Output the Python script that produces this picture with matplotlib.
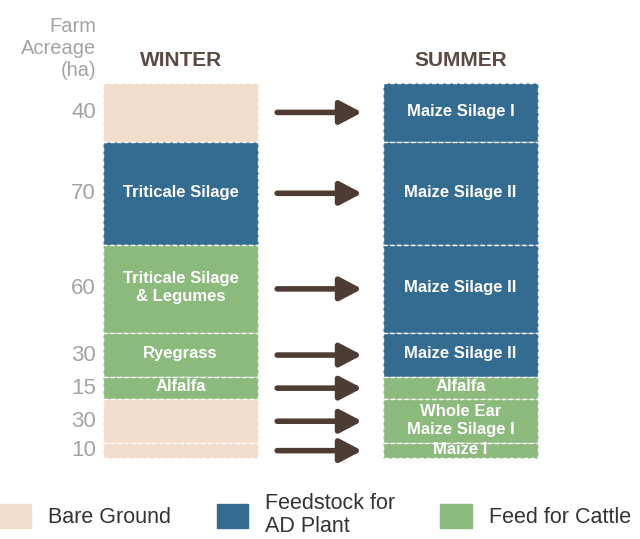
import numpy as np
import matplotlib.pyplot as plt
from matplotlib.patches import Patch, ArrowStyle

plt.rcParams['font.family'] = ['Liberation Sans', 'DejaVu Sans']

# Dados do gráfico
acreage = [40, 70, 60, 30, 15, 30, 10]
winter_crops = ['', 'Triticale Silage', 'Triticale Silage\n& Legumes', 'Ryegrass', 'Alfalfa', '', '']
winter_use = ['bare', 'ad', 'cattle', 'cattle', 'cattle', 'bare', 'bare']
summer_crops = ['Maize Silage I', 'Maize Silage II', 'Maize Silage II', 'Maize Silage II',
                'Alfalfa', 'Whole Ear\nMaize Silage I', 'Maize I']
summer_use = ['ad', 'ad', 'ad', 'ad', 'cattle', 'cattle', 'cattle']
seasons = ['WINTER', 'SUMMER']
use_keys = ['bare', 'ad', 'cattle']
use_names = ['Bare Ground', 'Feedstock for\nAD Plant', 'Feed for Cattle']
use_colors = {'bare': '#f2dccb', 'ad': '#346b91', 'cattle': '#8cb97c'}

bottoms = np.concatenate([[0], np.cumsum(acreage)[:-1]])
mids = bottoms + np.array(acreage) / 2
total = sum(acreage)

width = 0.554
fig = plt.figure(figsize=(6.4, 5.39), dpi=100)
ax = fig.add_axes([0, 1 - 458 / 539, 1, 375 / 539])
ax.set_xlim(-0.645, 1.641)
ax.set_ylim(total, 0)
ax.axis('off')

columns = [(0, winter_crops, winter_use), (1, summer_crops, summer_use)]
for x, crops, uses in columns:
    bars = ax.bar([x] * len(acreage), acreage, bottom=bottoms, width=width,
                  color=[use_colors[u] for u in uses], edgecolor='white',
                  linewidth=1, linestyle=(0, (3, 2)), clip_on=False)
    for bar, crop, m in zip(bars, crops, mids):
        if crop:
            t = ax.text(x, m - 0.8, crop, ha='center', va='center', color='white',
                        fontsize=12, fontweight='bold', linespacing=1.25)
            t.set_clip_path(bar)

for x, s in zip([0, 1], seasons):
    ax.text(x, -9, s, ha='center', va='bottom', fontsize=15, fontweight='bold',
            color='#5b4a43')

# números de hectares
for a, m in zip(acreage, mids):
    ax.text(-width / 2 - 0.025, m, str(a), ha='right', va='center',
            fontsize=16, color='#a3a3a3')
ax.text(-width / 2 - 0.025, -2, 'Farm\nAcreage\n(ha)', ha='right', va='bottom',
        fontsize=14.5, color='#a3a3a3', linespacing=1.2)

# setas
style = ArrowStyle('-|>', head_length=0.95, head_width=0.5)
for m in mids:
    ax.annotate('', xy=(1 - width / 2 - 0.075, m), xytext=(width / 2 + 0.068, m),
                arrowprops=dict(arrowstyle=style, mutation_scale=14, lw=4,
                                color='#4e3b33', shrinkA=0, shrinkB=0))

handles = [Patch(color=use_colors[k]) for k in use_keys]
leg = fig.legend(handles, use_names, loc='lower left', bbox_to_anchor=(0, 0.003), ncol=3,
                 frameon=False, fontsize=15.5, handlelength=1.45, handleheight=1.4,
                 handletextpad=0.8, columnspacing=2.1, borderpad=0, borderaxespad=0,
                 labelspacing=0, labelcolor='#333333')
for t in leg.get_texts():
    t.set_linespacing(1.15)

plt.savefig('out.png', dpi=100)
